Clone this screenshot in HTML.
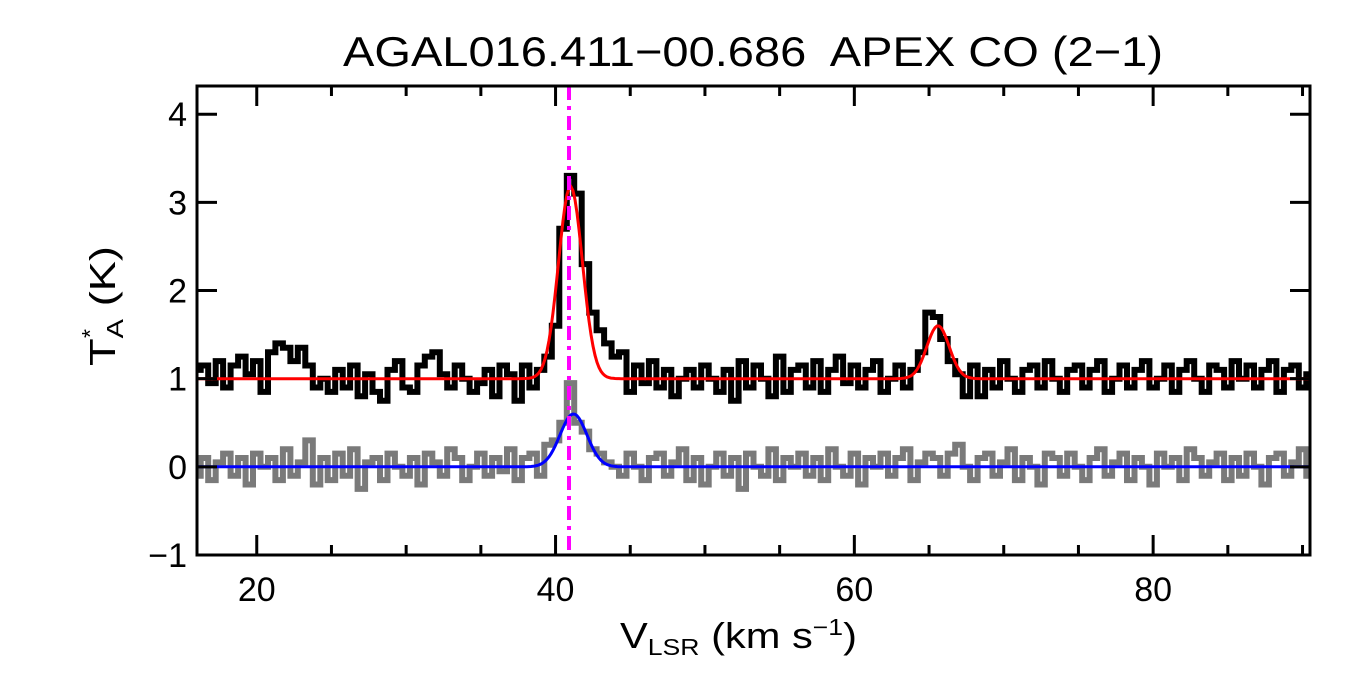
<!DOCTYPE html>
<html><head><meta charset="utf-8"><style>
body{margin:0;background:#fff;}
svg{display:block;font-family:"Liberation Sans",sans-serif;}
</style></head><body>
<svg id="chart" width="1350" height="675" viewBox="0 0 1350 675">
<rect width="1350" height="675" fill="#fff"/>
<text x="343" y="66" font-size="42" textLength="820" lengthAdjust="spacingAndGlyphs" style="white-space:pre">AGAL016.411−00.686  APEX CO (2−1)</text>
<g id="plot"></g>
<rect x="197" y="86" width="1113" height="469" fill="none" stroke="#000" stroke-width="3"/>
<g id="axes"></g>
<text x="620" y="648" font-size="36" textLength="237" lengthAdjust="spacingAndGlyphs">V<tspan font-size="23" dy="7">LSR</tspan><tspan dy="-7"> (km s</tspan><tspan font-size="23" dy="-13">−1</tspan><tspan dy="13">)</tspan></text>
<text transform="translate(115,366) rotate(-90)" font-size="36" textLength="120" lengthAdjust="spacingAndGlyphs">T<tspan font-size="23" dy="8">A</tspan><tspan dy="-8"> (K)</tspan></text>
<text transform="translate(98,338) rotate(-90)" font-size="23">*</text>
</svg>
<script>
const vStart = 16, vStep = 0.5;
const blackSpec = [1.1,1.15,0.95,1.2,0.9,1.15,1.25,1.05,1.2,0.85,
1.3,1.4,1.35,1.2,1.35,1.15,0.9,1.0,0.85,1.1,
0.9,1.15,0.8,1.05,0.85,0.75,1.1,1.2,0.9,0.85,
1.15,1.25,1.3,1.05,0.9,1.15,1.0,0.85,0.95,1.1,
0.8,1.15,1.05,0.75,1.15,0.9,1.1,1.25,1.6,2.7,
3.3,3.1,2.3,1.75,1.55,1.4,1.25,1.3,0.85,1.15,
0.95,1.2,0.9,1.1,0.8,1.0,1.1,0.9,1.15,1.0,
0.85,1.1,0.75,1.2,0.9,1.15,1.0,0.8,1.25,0.85,
1.1,1.15,0.9,1.2,0.85,1.1,1.25,0.95,1.15,0.9,
1.1,1.2,0.85,1.0,1.15,0.9,1.1,1.3,1.75,1.7,
1.45,1.2,1.05,0.8,1.15,0.8,1.1,0.9,1.2,1.0,
0.85,1.1,1.15,0.9,1.2,1.0,0.85,1.1,1.15,0.9,
1.1,1.2,0.85,1.0,1.15,0.9,1.1,1.2,0.9,1.0,
1.15,0.85,1.1,1.2,1.0,0.85,1.15,1.1,0.9,1.2,
1.0,1.15,0.9,1.1,1.2,0.85,1.1,1.15,0.9,1.05];
const graySpec = [-0.1,0.1,-0.15,0.05,0.15,-0.1,0.1,-0.2,0.15,0.0,
0.1,-0.15,0.2,-0.1,0.05,0.3,-0.2,0.1,-0.15,0.15,
-0.1,0.2,-0.25,0.05,0.1,-0.15,0.15,0.0,-0.1,0.1,
-0.2,0.15,0.05,-0.1,0.2,0.1,-0.15,0.0,0.15,-0.1,
0.1,-0.05,0.2,-0.15,0.1,0.15,-0.1,0.25,0.3,0.5,
0.95,0.5,0.4,0.2,0.15,0.05,0.0,-0.1,0.15,0.0,
-0.15,0.1,0.15,-0.1,0.05,0.2,-0.15,0.1,-0.2,0.0,
0.15,-0.1,0.1,-0.25,0.15,0.0,-0.1,0.2,-0.15,0.1,
0.0,0.15,-0.1,0.1,-0.15,0.2,0.0,-0.1,0.15,-0.2,
0.1,0.0,0.15,-0.1,0.1,0.2,-0.15,0.05,0.15,0.1,
-0.1,0.15,0.25,0.0,-0.15,0.1,0.15,-0.1,0.05,0.2,
-0.15,0.1,0.0,-0.2,0.15,0.1,-0.1,0.15,0.0,-0.15,
0.1,0.2,-0.1,0.05,0.15,-0.15,0.1,0.0,-0.2,0.15,
0.0,0.1,-0.15,0.2,0.1,-0.1,0.05,0.15,-0.15,0.1,
-0.1,0.15,0.0,-0.2,0.1,0.15,-0.1,0.05,0.2,-0.1];
const redFit = {base:1, comps:[[2.18,41.0,0.8],[0.6,65.6,0.75]]};
const blueFit = {base:0, comps:[[0.6,41.2,0.9]]};
const markerV = 40.9;
const xTicks = [20,40,60,80];
const yTicks = [-1,0,1,2,3,4];

const X0=197,X1=1310,Y0=86,Y1=555, vMin=16, vMax=90.5, tMin=-1.0, tMax=4.32;
const xs = v => X0+(v-vMin)/(vMax-vMin)*(X1-X0);
const ys = t => Y1-(t-tMin)/(tMax-tMin)*(Y1-Y0);
const NS='http://www.w3.org/2000/svg';
const plot=document.getElementById('plot'), axes=document.getElementById('axes');
function mk(tag,attrs,parent){const e=document.createElementNS(NS,tag);for(const k in attrs)e.setAttribute(k,attrs[k]);parent.appendChild(e);return e;}
function stepPath(arr){let d='';arr.forEach((t,i)=>{const v=vStart+i*vStep;const a=Math.max(X0,xs(v-vStep/2)),b=Math.min(X1,xs(v+vStep/2));d+=(i?'L':'M')+a.toFixed(1)+','+ys(t).toFixed(1)+'L'+b.toFixed(1)+','+ys(t).toFixed(1);});return d;}
function fitPath(f){let d='';for(let x=X0;x<=X1;x+=2){const v=vMin+(x-X0)/(X1-X0)*(vMax-vMin);let t=f.base;f.comps.forEach(c=>{const u=(v-c[1])/c[2];t+=c[0]*Math.exp(-0.5*u*u);});d+=(x===X0?'M':'L')+x+','+ys(t).toFixed(1);}return d;}
let p;
p=mk('path',{d:stepPath(graySpec),fill:'none',stroke:'#7a7a7a','stroke-width':6},plot);


p=mk('path',{d:stepPath(blackSpec),fill:'none',stroke:'#000','stroke-width':6},plot);


p=mk('path',{d:fitPath(blueFit),fill:'none',stroke:'#0000ff','stroke-width':3},plot);


p=mk('path',{d:fitPath(redFit),fill:'none',stroke:'#ff0000','stroke-width':3},plot);


p=mk('line',{x1:xs(markerV),x2:xs(markerV),y1:Y0,y2:Y1,stroke:'#ff00ff','stroke-width':4,'stroke-dasharray':'14,6,4,6'},plot);


for(let v=20;v<=90;v+=5){const maj=xTicks.includes(v);const L=maj?20:10;
 p=mk('line',{x1:xs(v),x2:xs(v),y1:Y1,y2:Y1-L,stroke:'#000','stroke-width':3},axes);
 
 
 p=mk('line',{x1:xs(v),x2:xs(v),y1:Y0,y2:Y0+L,stroke:'#000','stroke-width':3},axes);
 
 }
xTicks.forEach(v=>{const t=mk('text',{x:xs(v),y:601,'font-size':34,'text-anchor':'middle'},axes);t.textContent=v;
 
 });
yTicks.forEach(v=>{
 p=mk('line',{x1:X0,x2:X0+20,y1:ys(v),y2:ys(v),stroke:'#000','stroke-width':3},axes);
 
 
 p=mk('line',{x1:X1,x2:X1-20,y1:ys(v),y2:ys(v),stroke:'#000','stroke-width':3},axes);
 
 
 const t=mk('text',{x:187,y:ys(v)+12,'font-size':34,'text-anchor':'end'},axes);t.textContent=v<0?'−'+(-v):v;
 
 });
</script>
</body></html>
